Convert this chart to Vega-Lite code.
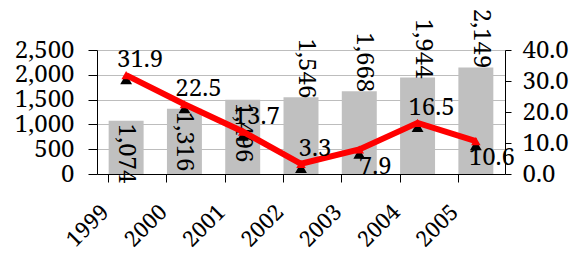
{
  "$schema": "https://vega.github.io/schema/vega-lite/v6.json",
  "width": 408,
  "height": 124,
  "autosize": {"type": "none"},
  "padding": {"left": 97, "top": 50, "right": 74, "bottom": 81},
  "background": "white",
  "config": {
    "font": "Noto Serif",
    "view": {"stroke": null},
    "axis": {"labelFont": "Noto Serif", "labelColor": "black", "domainColor": "black", "tickColor": "black"}
  },
  "data": {
    "values": [
      {"year": "1999", "count": 1074, "pct": 31.9},
      {"year": "2000", "count": 1316, "pct": 22.5},
      {"year": "2001", "count": 1496, "pct": 13.7},
      {"year": "2002", "count": 1546, "pct": 3.3},
      {"year": "2003", "count": 1668, "pct": 7.9},
      {"year": "2004", "count": 1944, "pct": 16.5},
      {"year": "2005", "count": 2149, "pct": 10.6}
    ]
  },
  "encoding": {
    "x": {
      "field": "year", "type": "ordinal",
      "scale": {"paddingInner": 0.4, "paddingOuter": 0.2},
      "axis": {"title": null, "labelAngle": -45, "labelAlign": "right", "labelBaseline": "middle", "labelFontSize": 22, "labelPadding": 26, "labelOffset": -21, "bandPosition": 0, "tickSize": 8, "grid": false, "domainWidth": 1, "tickWidth": 1}
    }
  },
  "layer": [
    {
      "encoding": {
        "y": {"field": "count", "type": "quantitative", "scale": {"domain": [0, 2500]},
          "axis": {"title": null, "orient": "left", "values": [0, 500, 1000, 1500, 2000, 2500], "format": ",.0f", "labelFontSize": 24, "labelPadding": 14, "tickSize": 9, "grid": true, "gridColor": "#BDBDBD", "gridWidth": 1}}
      },
      "layer": [
        {"mark": {"type": "bar", "color": "#C0C0C0"}},
        {
          "transform": [{"filter": "datum.year <= '2001'"}],
          "mark": {"type": "text", "angle": 90, "align": "left", "baseline": "middle", "dx": 3, "fontSize": 24, "color": "black"},
          "encoding": {"text": {"field": "count", "type": "quantitative", "format": ",.0f"}}
        },
        {
          "transform": [{"filter": "datum.year > '2001'"}],
          "mark": {"type": "text", "angle": 90, "align": "right", "baseline": "middle", "dx": 1, "dy": -5, "fontSize": 24, "color": "black"},
          "encoding": {"text": {"field": "count", "type": "quantitative", "format": ",.0f"}}
        }
      ]
    },
    {
      "encoding": {
        "y": {"field": "pct", "type": "quantitative", "scale": {"domain": [0, 40]},
          "axis": {"title": null, "orient": "right", "values": [0, 10, 20, 30, 40], "format": ".1f", "labelFontSize": 24, "labelPadding": 11, "tickSize": 6, "grid": false}}
      },
      "layer": [
        {"mark": {"type": "point", "shape": "triangle-up", "filled": true, "color": "black", "size": 140, "opacity": 1}, "encoding": {"yOffset": {"value": 4}}},
        {"mark": {"type": "point", "shape": "triangle-up", "filled": true, "color": "#FF0000", "size": 90, "opacity": 1}},
        {"mark": {"type": "line", "color": "#FF0000", "strokeWidth": 6}},
        {
          "transform": [{"filter": "datum.year != '2003' && datum.year != '2005'"}],
          "mark": {"type": "text", "align": "center", "baseline": "middle", "dx": 14, "dy": -15, "fontSize": 24, "color": "black"},
          "encoding": {"text": {"field": "pct", "type": "quantitative", "format": ".1f"}}
        },
        {
          "transform": [{"filter": "datum.year == '2003' || datum.year == '2005'"}],
          "mark": {"type": "text", "align": "center", "baseline": "middle", "dx": 16, "dy": 17, "fontSize": 24, "color": "black"},
          "encoding": {"text": {"field": "pct", "type": "quantitative", "format": ".1f"}}
        }
      ]
    }
  ],
  "resolve": {"scale": {"y": "independent"}, "axis": {"y": "independent"}}
}
